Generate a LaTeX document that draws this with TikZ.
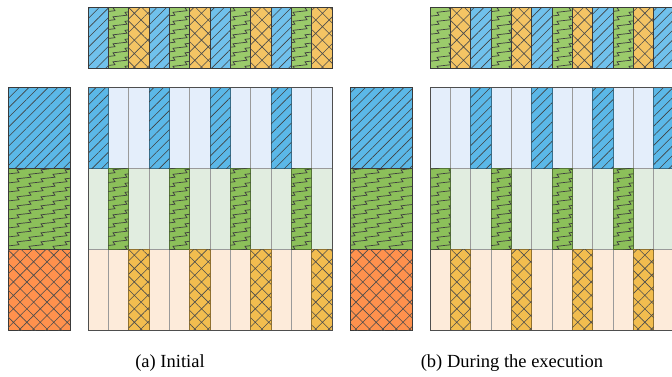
\documentclass[tikz,border=0pt]{standalone}
\usepackage{fontspec}
\setmainfont{Liberation Serif}
\usetikzlibrary{patterns,patterns.meta}

\definecolor{bluedk}{HTML}{5BB8E8}
\definecolor{bluestrip}{HTML}{70C1EC}
\definecolor{greendk}{HTML}{8CC05A}
\definecolor{greenstrip}{HTML}{9BCB6B}
\definecolor{yel}{HTML}{F2BD4F}
\definecolor{yelstrip}{HTML}{F4C464}
\definecolor{orng}{HTML}{FF914D}
\definecolor{lblue}{HTML}{E4EEFB}
\definecolor{lgreen}{HTML}{E1EDE0}
\definecolor{lpeach}{HTML}{FDEBDA}
\definecolor{gridgray}{HTML}{9A9A9A}
\definecolor{edge}{HTML}{3A3A3A}

\tikzdeclarepattern{
  name=zigzag,
  type=uncolored,
  bounding box={(-1pt,-1pt) and (25pt,10pt)},
  tile size={(24pt,9pt)},
  code={\draw[line width=0.7pt,line join=miter] (0pt,0pt) -- (7pt,0.8pt) -- (5pt,3.7pt) -- (12pt,4.5pt) -- (19pt,5.3pt) -- (17pt,8.2pt) -- (24pt,9pt);}
}

\tikzset{
  pblue/.style={postaction={pattern={Lines[angle=45,distance=6.8pt,line width=0.6pt]},pattern color=black!75}},
  pgreen/.style={postaction={pattern=zigzag,pattern color=black!75}},
  pcross/.style={postaction={pattern={Hatch[angle=45,distance=9.5pt,line width=0.6pt]},pattern color=black!70}},
  strip0/.style={fill=bluestrip,pblue,draw=edge,line width=0.6pt},
  strip1/.style={fill=greenstrip,pgreen,draw=edge,line width=0.6pt},
  strip2/.style={fill=yelstrip,pcross,draw=edge,line width=0.6pt},
  cell0/.style={fill=bluedk,pblue,draw=bluedk!60!black,line width=0.6pt},
  cell1/.style={fill=greendk,pgreen,draw=greendk!60!black,line width=0.6pt},
  cell2/.style={fill=yel,pcross,draw=yel!60!black,line width=0.6pt},
  light0/.style={fill=lblue},
  light1/.style={fill=lgreen},
  light2/.style={fill=lpeach},
  blockA/.style={fill=bluedk,pblue,draw=edge,line width=0.8pt},
  blockB/.style={fill=greendk,pgreen,draw=edge,line width=0.8pt},
  blockC/.style={fill=orng,pcross,draw=edge,line width=0.8pt},
  captext/.style={font=\fontsize{18.5}{22}\selectfont,inner sep=0pt}
}

\begin{document}
\begin{tikzpicture}[x=1pt,y=-1pt]
\useasboundingbox (0,0) rectangle (672,376);
\def\cw{20.333}
\foreach \off/\sx in {0/0,1/342}{
\begin{scope}[xshift=\sx]
  % top strip
  \foreach \i in {0,...,11}{
    \pgfmathtruncatemacro\c{mod(\i+\off,3)}
    \path[strip\c] ({88+\i*\cw},7) rectangle ({88+(\i+1)*\cw},68);
  }
  \draw[edge,line width=0.8pt] (88,7) rectangle (332,68);
  % left block
  \path[blockA] (8,87) rectangle (70,168);
  \path[blockB] (8,168) rectangle (70,249);
  \path[blockC] (8,249) rectangle (70,330);
  % grid light rows
  \path[light0] (88,87) rectangle (332,168);
  \path[light1] (88,168) rectangle (332,249);
  \path[light2] (88,249) rectangle (332,330);
  \foreach \i in {1,...,11}{
    \draw[gridgray,line width=0.8pt] ({88+\i*\cw},87) -- ({88+\i*\cw},330);
  }
  \draw[gridgray,line width=0.8pt] (88,168) -- (332,168) (88,249) -- (332,249);
  % coloured cells
  \foreach \r/\yt/\yb in {0/87/168,1/168/249,2/249/330}{
    \foreach \i in {0,...,11}{
      \pgfmathtruncatemacro\c{mod(\i+\off,3)}
      \ifnum\c=\r
        \path[cell\r] ({88+\i*\cw},\yt) rectangle ({88+(\i+1)*\cw},\yb);
      \fi
    }
  }
  \draw[edge!90,line width=0.9pt] (88,87) rectangle (332,330);
\end{scope}
}
\node[captext] (capa) at (170,363) {(a) Initial};
\node[captext] (capb) at (512,363) {(b) During the execution};
\end{tikzpicture}
\end{document}
